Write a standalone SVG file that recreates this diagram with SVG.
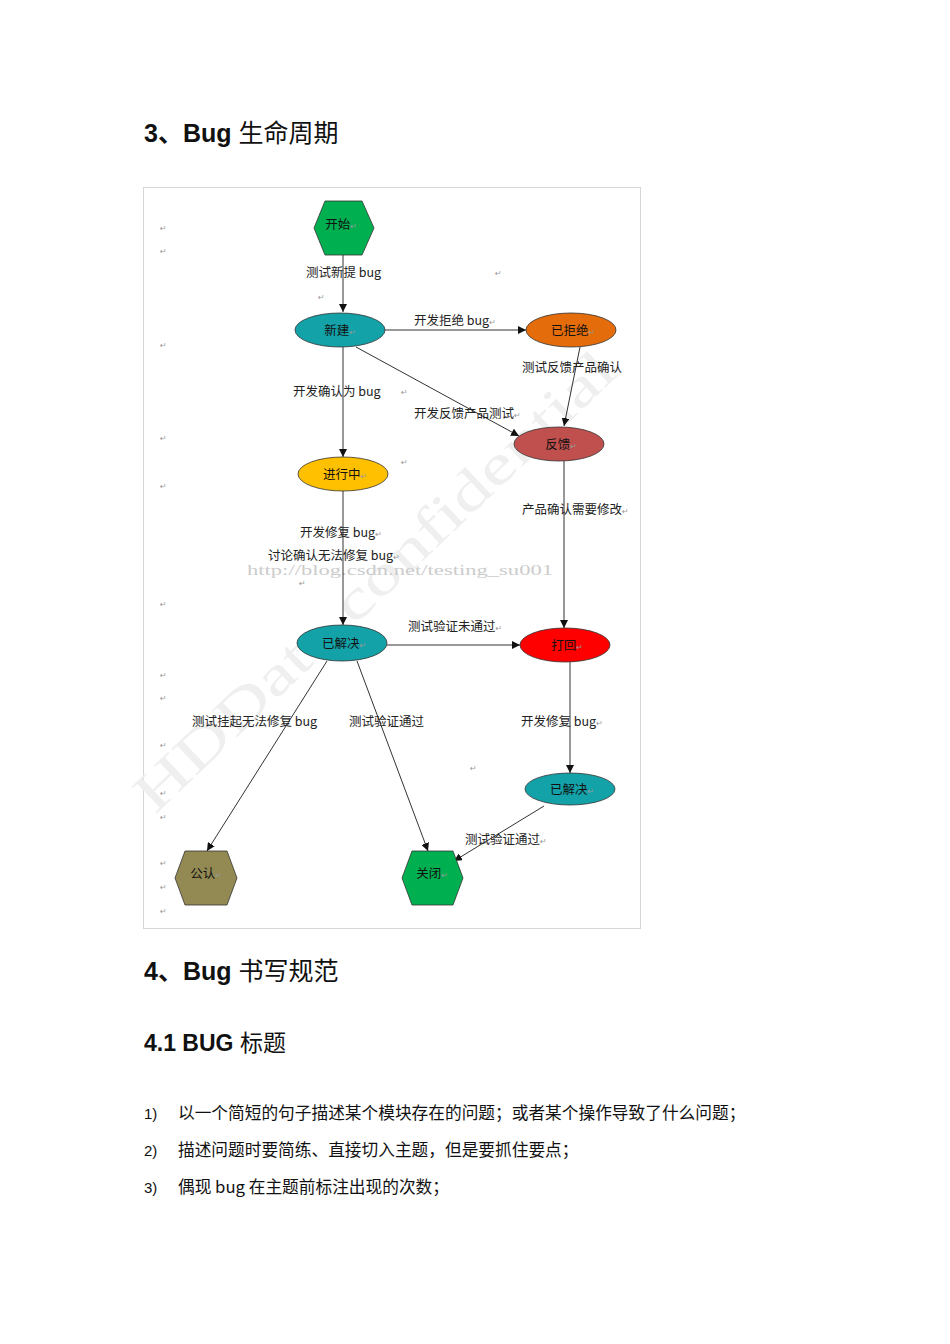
<svg xmlns="http://www.w3.org/2000/svg" width="950" height="1344" viewBox="0 0 950 1344">
<style>
.h{font-family:"Liberation Sans","Noto Sans CJK SC",sans-serif;font-size:25px;fill:#111}
.hb{font-weight:bold}
.cj{font-family:"Noto Sans CJK SC",sans-serif;font-weight:normal}
.lbl{font-family:"Noto Sans CJK SC","Liberation Sans",sans-serif;font-size:12.5px;fill:#222}
.nl{font-family:"Noto Sans CJK SC","Liberation Sans",sans-serif;font-size:12.5px;fill:#111;text-anchor:middle}
.rm{font-family:"DejaVu Sans",sans-serif;font-size:8px;fill:#999}
.edge{stroke:#333;stroke-width:1;fill:none;marker-end:url(#ah)}
.nd{stroke:#333;stroke-width:0.8}
.li{font-family:"Noto Sans CJK SC",sans-serif;font-size:16.7px;fill:#111}
.ln{font-family:"Liberation Sans",sans-serif;font-size:15px;fill:#111}
</style>
<defs>
<marker id="ah" viewBox="0 0 10 10" refX="10" refY="5" markerWidth="8" markerHeight="8" markerUnits="userSpaceOnUse" orient="auto">
<path d="M0,0 L10,5 L0,10 z" fill="#111"/>
</marker>
</defs>
<rect width="950" height="1344" fill="#fff"/>

<text class="h" x="144" y="142"><tspan class="hb">3、Bug </tspan><tspan class="cj">生命周期</tspan></text>

<rect x="143.5" y="187.5" width="497" height="741" fill="#fff" stroke="#d6d6d6" stroke-width="1"/>

<g id="watermarks">
<text x="155" y="815" transform="rotate(-43.5 155 815)" font-family="Liberation Serif,serif" font-size="56" fill="#efefef" textLength="640" lengthAdjust="spacingAndGlyphs">HDData confidential</text>
<text x="247" y="575" font-family="Liberation Serif,serif" font-size="15" fill="#cccccc" textLength="306" lengthAdjust="spacingAndGlyphs">http://blog.csdn.net/testing_su001</text>
</g>

<g id="connectors">
<line class="edge" x1="343" y1="255" x2="343" y2="312"/>
<line class="edge" x1="385" y1="330" x2="526" y2="330"/>
<line class="edge" x1="356" y1="347" x2="519" y2="436"/>
<line class="edge" x1="580" y1="347" x2="564" y2="426"/>
<line class="edge" x1="343" y1="347" x2="343" y2="457"/>
<line class="edge" x1="343" y1="491" x2="343" y2="625"/>
<line class="edge" x1="564" y1="461" x2="564" y2="628"/>
<line class="edge" x1="387" y1="645" x2="520" y2="645"/>
<line class="edge" x1="570" y1="662" x2="570" y2="773"/>
<line class="edge" x1="327" y1="661" x2="207" y2="851"/>
<line class="edge" x1="357" y1="661" x2="428" y2="851"/>
<line class="edge" x1="544" y1="806" x2="454" y2="861"/>
</g>

<g id="edge-labels">
<text class="lbl" x="306" y="277">测试新提 bug</text>
<text class="lbl" x="414" y="325">开发拒绝 bug<tspan class="rm">↵</tspan></text>
<text class="lbl" x="522" y="372">测试反馈产品确认</text>
<text class="lbl" x="293" y="396">开发确认为 bug</text>
<text class="lbl" x="414" y="418">开发反馈产品测试<tspan class="rm">↵</tspan></text>
<text class="lbl" x="522" y="514">产品确认需要修改<tspan class="rm">↵</tspan></text>
<text class="lbl" x="300" y="537">开发修复 bug<tspan class="rm">↵</tspan></text>
<text class="lbl" x="268" y="560">讨论确认无法修复 bug<tspan class="rm">↵</tspan></text>
<text class="lbl" x="408" y="631">测试验证未通过<tspan class="rm">↵</tspan></text>
<text class="lbl" x="192" y="726">测试挂起无法修复 bug</text>
<text class="lbl" x="349" y="726">测试验证通过</text>
<text class="lbl" x="521" y="726">开发修复 bug<tspan class="rm">↵</tspan></text>
<text class="lbl" x="465" y="844">测试验证通过<tspan class="rm">↵</tspan></text>
</g>

<g id="para-marks" class="rm">
<text x="160" y="231">↵</text>
<text x="160" y="254">↵</text>
<text x="495" y="276">↵</text>
<text x="318" y="300">↵</text>
<text x="160" y="348">↵</text>
<text x="401" y="395">↵</text>
<text x="160" y="441">↵</text>
<text x="401" y="465">↵</text>
<text x="160" y="489">↵</text>
<text x="299" y="586">↵</text>
<text x="160" y="607">↵</text>
<text x="160" y="678">↵</text>
<text x="160" y="701">↵</text>
<text x="160" y="748">↵</text>
<text x="470" y="771">↵</text>
<text x="160" y="796">↵</text>
<text x="160" y="820">↵</text>
<text x="160" y="866">↵</text>
<text x="160" y="890">↵</text>
<text x="160" y="914">↵</text>
</g>

<g id="n-start">
<polygon class="nd" points="314,228 325,201 362,201 374,228 362,255 325,255" fill="#00b050"/>
<text class="nl" x="341" y="229">开始<tspan class="rm">↵</tspan></text>
</g>
<g id="n-new">
<ellipse class="nd" cx="340" cy="330" rx="45" ry="17" fill="#13a2a8"/>
<text class="nl" x="340" y="335">新建<tspan class="rm">↵</tspan></text>
</g>
<g id="n-rejected">
<ellipse class="nd" cx="571" cy="330" rx="45" ry="17" fill="#e46c0a"/>
<text class="nl" x="573" y="335">已拒绝<tspan class="rm">↵</tspan></text>
</g>
<g id="n-feedback">
<ellipse class="nd" cx="559" cy="444" rx="45" ry="17" fill="#c0504d"/>
<text class="nl" x="561" y="449">反馈<tspan class="rm">↵</tspan></text>
</g>
<g id="n-inprogress">
<ellipse class="nd" cx="343" cy="474" rx="45" ry="17" fill="#ffc000"/>
<text class="nl" x="345" y="479">进行中<tspan class="rm">↵</tspan></text>
</g>
<g id="n-resolved1">
<ellipse class="nd" cx="342" cy="643" rx="45" ry="18" fill="#13a2a8"/>
<text class="nl" x="344" y="648">已解决<tspan class="rm">↵</tspan></text>
</g>
<g id="n-reopen">
<ellipse class="nd" cx="565" cy="645" rx="45" ry="17" fill="#ff0000"/>
<text class="nl" x="567" y="650">打回<tspan class="rm">↵</tspan></text>
</g>
<g id="n-resolved2">
<ellipse class="nd" cx="570" cy="789" rx="45" ry="16" fill="#13a2a8"/>
<text class="nl" x="572" y="794">已解决<tspan class="rm">↵</tspan></text>
</g>
<g id="n-deferred">
<polygon class="nd" points="175,878 185,851 227,851 237,878 227,905 185,905" fill="#938953"/>
<text class="nl" x="206" y="878">公认<tspan class="rm">↵</tspan></text>
</g>
<g id="n-closed">
<polygon class="nd" points="402,878 412,851 453,851 463,878 453,905 412,905" fill="#00b050"/>
<text class="nl" x="432" y="878">关闭<tspan class="rm">↵</tspan></text>
</g>

<text class="h" x="144" y="980"><tspan class="hb">4、Bug </tspan><tspan class="cj">书写规范</tspan></text>
<text class="h" x="144" y="1051" style="font-size:23px"><tspan class="hb">4.1 BUG </tspan><tspan class="cj">标题</tspan></text>

<text class="ln" x="144" y="1119">1)</text>
<text class="li" x="178" y="1119">以一个简短的句子描述某个模块存在的问题；或者某个操作导致了什么问题；</text>
<text class="ln" x="144" y="1156">2)</text>
<text class="li" x="178" y="1156">描述问题时要简练、直接切入主题，但是要抓住要点；</text>
<text class="ln" x="144" y="1193">3)</text>
<text class="li" x="178" y="1193">偶现 bug 在主题前标注出现的次数；</text>
</svg>
